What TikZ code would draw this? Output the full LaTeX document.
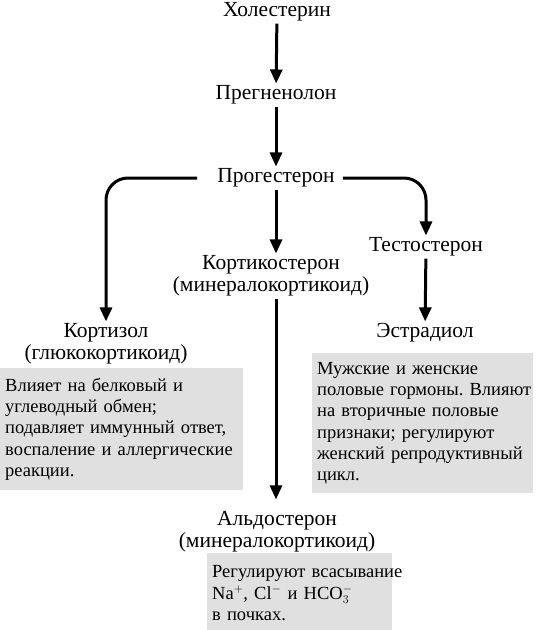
\documentclass[tikz,border=0pt]{standalone}
\usepackage{fontspec}
\setmainfont{Liberation Serif}
\usetikzlibrary{arrows.meta}
\definecolor{boxgray}{HTML}{E0E0E0}
\frenchspacing

\begin{document}
\begin{tikzpicture}[x=1pt, y=-1pt,
  hormone/.style={font=\fontsize{21.5}{22}\selectfont, align=center, inner sep=2pt},
  info/.style={fill=boxgray, anchor=north west, align=left, font=\fontsize{18.5}{21.3}\selectfont, inner xsep=5pt, inner ysep=5pt},
  arrow/.style={line width=3pt, -{Triangle[length=14pt,width=12pt]}, rounded corners=22pt}
]
  \useasboundingbox (0,0) rectangle (536,630);

  % main chain
  \node[hormone] (chol) at (277,12) {Холестерин};
  \node[hormone] (preg) at (276,95) {Прегненолон};
  \node[hormone] (prog) at (276,178) {Прогестерон};

  % branches
  \node[hormone] (cort) at (271,276) {Кортикостерон\\(минералокортикоид)};
  \node[hormone] (test) at (426,247) {Тестостерон};
  \node[hormone] (estr) at (425,333) {Эстрадиол};
  \node[hormone] (kortizol) at (106,344) {Кортизол\\(глюкокортикоид)};
  \node[hormone] (aldo) at (277,532) {Альдостерон\\(минералокортикоид)};

  % info boxes
  \node[info, text width=233pt, minimum height=122pt] (kortizolinfo) at (0,368)
    {Влияет на белковый и\\углеводный обмен;\\\mbox{подавляет иммунный ответ,}\\\mbox{воспаление и аллергические}\\реакции.};
  \node[info, text width=211pt, minimum height=140pt, inner ysep=8pt] (estrinfo) at (312,353)
    {Мужские и женские\\\mbox{половые гормоны. Влияют}\\на вторичные половые\\признаки; регулируют\\\mbox{женский репродуктивный}\\цикл.};
  \node[info, text width=175pt, minimum height=80pt] (aldoinfo) at (207,553)
    {\mbox{Регулируют всасывание}\\Na$^+$, Cl$^-$ и HCO$_3^-$\\в почках.};

  % arrows
  \draw[arrow] (chol) -- (preg);
  \draw[arrow] (preg) -- (prog);
  \draw[arrow] (prog) -- (prog |- cort.north);
  \draw[arrow, shorten <=18pt] (prog.west) -| (kortizol.north);
  \draw[arrow, shorten <=6pt] (prog.east) -| (test.north);
  \draw[arrow] (test) -- (estr);
  \draw[arrow, shorten >=10pt] (prog |- cort.south) -- (prog |- aldo.north);
\end{tikzpicture}
\end{document}
